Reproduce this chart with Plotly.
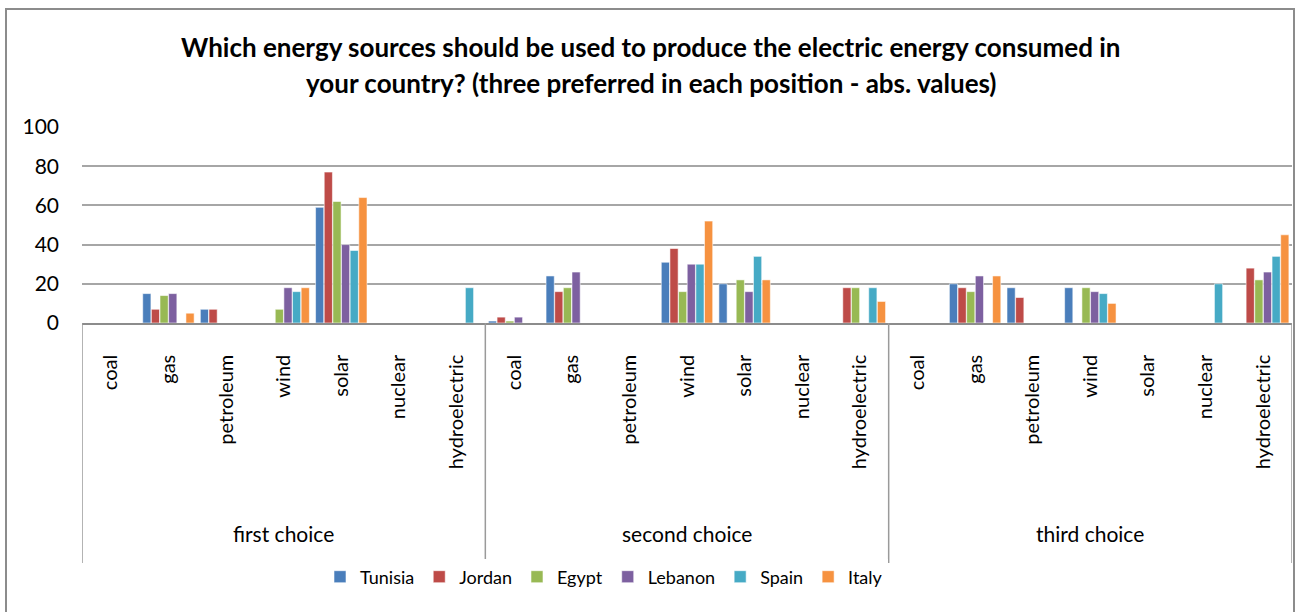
import plotly.graph_objects as go

# ---------------- data ----------------
choices = ["first choice", "second choice", "third choice"]
sources = ["coal", "gas", "petroleum", "wind", "solar", "nuclear", "hydroelectric"]
countries = ["Tunisia", "Jordan", "Egypt", "Lebanon", "Spain", "Italy"]
colors = ["#4A7EBB", "#BE4B48", "#98B954", "#7D60A0", "#46AAC5", "#F69240"]

# values per country, 21 entries = 3 choices x 7 sources (None = no value)
tunisia = [None, 15, 7, None, 59, None, None,
           1, 24, None, 31, 20, None, None,
           None, 20, 18, 18, None, None, None]
jordan = [None, 7, 7, None, 77, None, None,
          3, 16, None, 38, None, None, 18,
          None, 18, 13, None, None, None, 28]
egypt = [None, 14, None, 7, 62, None, None,
         1, 18, None, 16, 22, None, 18,
         None, 16, None, 18, None, None, 22]
lebanon = [None, 15, None, 18, 40, None, None,
           3, 26, None, 30, 16, None, None,
           None, 24, None, 16, None, None, 26]
spain = [None, None, None, 16, 37, None, 18,
         None, None, None, 30, 34, None, 18,
         None, None, None, 15, None, 20, 34]
italy = [None, 5, None, 18, 64, None, None,
         None, None, None, 52, 22, None, 11,
         None, 24, None, 10, None, None, 45]
series = [tunisia, jordan, egypt, lebanon, spain, italy]

FONT = "Lato"

# x positions: group index * n_sources + source index
n = len(sources)
xpos = [g * n + s for g in range(len(choices)) for s in range(n)]
ticktext = [s for _ in choices for s in sources]

fig = go.Figure()
for name, vals, col in zip(countries, series, colors):
    fig.add_trace(go.Bar(
        x=xpos, y=vals, name=name,
        marker=dict(color=col, line=dict(color="rgba(255,255,255,0.7)", width=0.8)),
    ))

# top/bottom of plot area in pixels (layout)
H = 612
T = 127
B = 289
plot_h = H - T - B

def py(pix):
    """pixel y (from top) -> paper y"""
    return (H - B - pix) / plot_h

L, R = 82, 4
plot_w = 1296 - L - R
def px(pix):
    return (pix - L) / plot_w

shapes = []
# category-group separators
for g in range(len(choices) + 1):
    shapes.append(dict(type="line", xref="x", yref="paper",
                       x0=g * n - 0.5, x1=g * n - 0.5, y0=0, y1=py(563),
                       line=dict(color="#9a9a9a", width=1.5)))
# chart-area frame
shapes.append(dict(type="rect", xref="paper", yref="paper",
                   x0=px(6), x1=px(1294), y0=py(640), y1=py(9),
                   line=dict(color="#8c8c8c", width=2), fillcolor="rgba(0,0,0,0)",
                   layer="below"))

annotations = []
for g, ch in enumerate(choices):
    annotations.append(dict(text=ch, xref="x", yref="paper", x=g * n + (n - 1) / 2,
                            y=py(533), showarrow=False, yanchor="middle",
                            font=dict(family=FONT, size=21, color="#000")))
title_lines = ["Which energy sources should be used to produce the electric energy consumed in",
               "your country? (three preferred in each position - abs. values)"]
for line, ypix in zip(title_lines, [47, 83]):
    annotations.append(dict(text="<b>" + line + "</b>", xref="paper", yref="paper",
                            x=px(651), y=py(ypix), showarrow=False,
                            xanchor="center", yanchor="middle",
                            font=dict(family=FONT, size=26, color="#000")))

fig.update_layout(
    width=1296, height=612,
    margin=dict(l=L, r=R, t=T, b=B),
    paper_bgcolor="white", plot_bgcolor="white",
    barmode="group", bargap=0.1, bargroupgap=0.05,
    font=dict(family=FONT, color="#000"),
    showlegend=True,
    legend=dict(orientation="h", x=px(604), xanchor="center", y=py(577), yanchor="middle",
                font=dict(family=FONT, size=18), itemwidth=30, traceorder="normal"),
    shapes=shapes, annotations=annotations,
    xaxis=dict(tickmode="array", tickvals=xpos, ticktext=ticktext, tickangle=-90,
               range=[-0.5, len(xpos) - 0.5], showgrid=False, zeroline=False,
               showline=True, linecolor="#8c8c8c", linewidth=1.5,
               ticks="", ticklabelstandoff=22,
               tickfont=dict(family=FONT, size=20, color="#000")),
    yaxis=dict(range=[0, 100], tickvals=[0, 20, 40, 60, 80, 100],
               showgrid=True, gridcolor="#a6a6a6", gridwidth=1.5,
               zeroline=False, showline=False, ticks="", ticklabelstandoff=22,
               tickfont=dict(family=FONT, size=21, color="#000")),
)

fig.write_html("out.html")
